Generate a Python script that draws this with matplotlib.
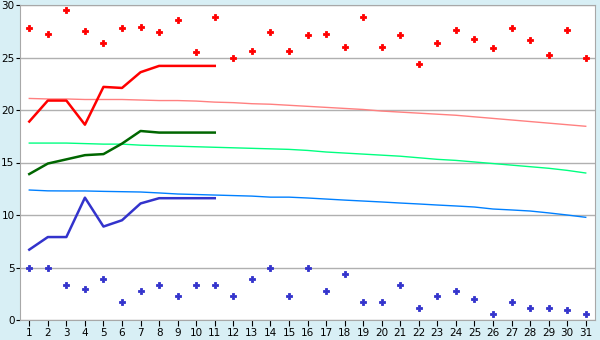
import matplotlib
matplotlib.use("Agg")
import matplotlib.pyplot as plt

days = list(range(1, 32))

# record highs / lows (scatter)
rec_max = [27.8, 27.2, 29.5, 27.5, 26.35, 27.8, 27.9, 27.4, 28.6, 25.5,
           28.9, 25.0, 25.6, 27.4, 25.6, 27.1, 27.2, 26.0, 28.9, 26.0,
           27.1, 24.4, 26.4, 27.6, 26.8, 25.9, 27.8, 26.7, 25.2, 27.6, 25.0]
rec_min = [5.0, 5.0, 3.3, 3.0, 3.9, 1.7, 2.8, 3.3, 2.3, 3.3,
           3.3, 2.3, 3.9, 5.0, 2.3, 5.0, 2.8, 4.4, 1.7, 1.7,
           3.3, 1.1, 2.3, 2.8, 2.0, 0.6, 1.7, 1.1, 1.1, 1.0, 0.6]

# normals (thin lines)
norm_max = [21.1, 21.05, 21.05, 21.0, 21.0, 21.0, 20.95, 20.9, 20.9, 20.85,
            20.75, 20.7, 20.6, 20.55, 20.45, 20.35, 20.25, 20.15, 20.05, 19.9,
            19.8, 19.7, 19.6, 19.5, 19.35, 19.2, 19.05, 18.9, 18.75, 18.6, 18.45]
norm_mean = [16.85, 16.85, 16.85, 16.8, 16.75, 16.75, 16.65, 16.6, 16.55, 16.5,
             16.45, 16.4, 16.35, 16.3, 16.25, 16.15, 16.0, 15.9, 15.8, 15.7,
             15.6, 15.45, 15.3, 15.2, 15.05, 14.9, 14.75, 14.6, 14.45, 14.25, 14.0]
norm_min = [12.38, 12.3, 12.29, 12.29, 12.25, 12.22, 12.19, 12.1, 12.0, 11.95,
            11.9, 11.85, 11.8, 11.7, 11.7, 11.62, 11.52, 11.42, 11.33, 11.24,
            11.14, 11.05, 10.95, 10.86, 10.76, 10.57, 10.48, 10.38, 10.2, 10.0, 9.78]

# observed this month (days 1-11)
obs_days = list(range(1, 12))
obs_max = [18.9, 20.9, 20.9, 18.6, 22.2, 22.1, 23.6, 24.2, 24.2, 24.2, 24.2]
obs_mean = [13.9, 14.9, 15.3, 15.7, 15.8, 16.8, 18.0, 17.85, 17.85, 17.85, 17.85]
obs_min = [6.7, 7.9, 7.9, 11.65, 8.9, 9.5, 11.1, 11.6, 11.6, 11.6, 11.6]

fig = plt.figure(figsize=(6, 3.4), dpi=100, facecolor="#d8eff5")
ax = fig.add_axes([20/600, 20/340, 575/600, 315/340])
ax.set_facecolor("white")

ax.plot(days, norm_max, color="#ff8080", lw=1)
ax.plot(days, norm_mean, color="#00ff80", lw=1)
ax.plot(days, norm_min, color="#0080ff", lw=1)

ax.plot(obs_days, obs_max, color="#ff0000", lw=1.8)
ax.plot(obs_days, obs_mean, color="#006600", lw=1.8)
ax.plot(obs_days, obs_min, color="#3333cc", lw=1.8)

ax.plot(days, rec_max, "P", color="#ff0000", ms=4, mew=0.6, ls="none")
ax.plot(days, rec_min, "P", color="#3333cc", ms=4, mew=0.6, ls="none")

ax.set_xlim(0.5, 31.5)
ax.set_ylim(0, 30)
ax.set_xticks(days)
ax.set_yticks([0, 5, 10, 15, 20, 25, 30])
ax.yaxis.grid(True, color="#b0b0b0", lw=1)
ax.set_axisbelow(True)
for s in ax.spines.values():
    s.set_color("#a8a8a8")
ax.tick_params(axis="x", direction="out", length=4, color="black",
               labelsize=7.5, pad=2)
ax.tick_params(axis="y", direction="out", length=3, color="black",
               labelsize=7.5, pad=1)

fig.savefig("out.png", dpi=100, facecolor=fig.get_facecolor())
